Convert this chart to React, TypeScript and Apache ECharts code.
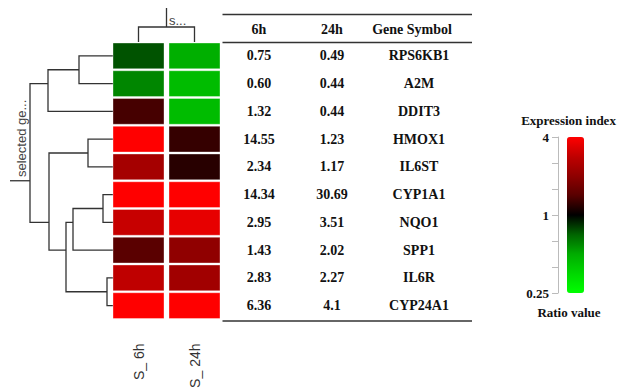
import React, { useEffect, useRef } from "react";
import * as echarts from "echarts";

// ---------- data ----------
const genes = ["RPS6KB1", "A2M", "DDIT3", "HMOX1", "IL6ST", "CYP1A1", "NQO1", "SPP1", "IL6R", "CYP24A1"];
const ratio6h = ["0.75", "0.60", "1.32", "14.55", "2.34", "14.34", "2.95", "1.43", "2.83", "6.36"];
const ratio24h = ["0.49", "0.44", "0.44", "1.23", "1.17", "30.69", "3.51", "2.02", "2.27", "4.1"];
const sampleLabels = ["S_ 6h", "S_ 24h"];
const tableHeaders = ["6h", "24h", "Gene Symbol"];
const legendRatioLabels = [0.25, 1, 4];

// row dendrogram merges (leaves = row indices), height = linkage distance
const rowMerges = [
  { id: "A", left: 0, right: 1, height: 34 },
  { id: "B", left: "A", right: 2, height: 65 },
  { id: "C", left: 3, right: 4, height: 25 },
  { id: "G", left: 5, right: 6, height: 10 },
  { id: "F", left: "G", right: 7, height: 40 },
  { id: "H", left: 8, right: 9, height: 6 },
  { id: "E", left: "F", right: "H", height: 47 },
  { id: "D", left: "C", right: "E", height: 64 },
  { id: "R", left: "B", right: "D", height: 83 },
];
const rowRootStem = 103;
// column dendrogram
const colMerges = [{ id: "S", left: 0, right: 1, height: 15 }];
const colRootStem = 34;

// ---------- helpers ----------
const FONT_SERIF = '"Times New Roman", "Liberation Serif", serif';
const FONT_SANS = 'Arial, "Liberation Sans", sans-serif';

type Merge = { id: string; left: number | string; right: number | string; height: number };

function buildDendro(merges: Merge[], stem: number) {
  const info: Record<string, { pos: number; h: number; leaves: number[] }> = {};
  const get = (k: number | string) =>
    typeof k === "number" ? { pos: k, h: 0, leaves: [k] } : info[k];
  const segs: number[][][] = [];
  let last: { pos: number; h: number } | null = null;
  for (const m of merges) {
    const l = get(m.left);
    const r = get(m.right);
    const leaves = [...l.leaves, ...r.leaves];
    const pos = leaves.reduce((a, b) => a + b, 0) / leaves.length;
    info[m.id] = { pos, h: m.height, leaves };
    segs.push([
      [l.h, l.pos],
      [m.height, l.pos],
      [m.height, r.pos],
      [r.h, r.pos],
    ]);
    last = info[m.id];
  }
  if (last) segs.push([[last.h, last.pos], [stem, last.pos]]);
  return segs;
}

const rowSegs = buildDendro(rowMerges, rowRootStem); // [dist, row]
const colSegs = buildDendro(colMerges, colRootStem).map((s) => s.map(([h, p]) => [p, h])); // [col, dist]

const log2c = (s: string) => Math.max(-2, Math.min(2, Math.log2(Number(s))));
const cellData: number[][] = [];
genes.forEach((_, i) => {
  cellData.push([0, i, log2c(ratio6h[i])]);
  cellData.push([1, i, log2c(ratio24h[i])]);
});

const tableColX = [37, 110, 197];

const lineStyle = { color: "#333", width: 1.3, opacity: 1 };

const option: any = {
  animation: false,
  backgroundColor: "#fff",
  grid: [
    { left: 10, top: 42, width: 103, height: 277.5, outerBoundsMode: "none" },
    { left: 110.5, top: 8, width: 112, height: 34, outerBoundsMode: "none" },
    { left: 110.5, top: 42, width: 112, height: 277.5, outerBoundsMode: "none" },
    { left: 222, top: 42, width: 250, height: 277.5, outerBoundsMode: "none" },
    { left: 558, top: 137, width: 26, height: 156, outerBoundsMode: "none" },
  ],
  xAxis: [
    { gridIndex: 0, type: "value", min: 0, max: rowRootStem, inverse: true, show: false },
    { gridIndex: 1, type: "value", min: -0.5, max: 1.5, show: false },
    {
      gridIndex: 2,
      type: "category",
      data: sampleLabels,
      position: "bottom",
      axisLine: { show: false },
      axisTick: { show: false },
      splitLine: { show: false },
      axisLabel: { rotate: 90, margin: 24, fontSize: 14, color: "#333", fontFamily: FONT_SANS },
    },
    { gridIndex: 3, type: "value", min: 0, max: 250, show: false },
    { gridIndex: 4, type: "value", min: 0, max: 1, show: false },
  ],
  yAxis: [
    { gridIndex: 0, type: "value", min: -0.5, max: genes.length - 0.5, inverse: true, show: false },
    { gridIndex: 1, type: "value", min: 0, max: colRootStem, show: false },
    { gridIndex: 2, type: "category", data: genes, inverse: true, show: false },
    { gridIndex: 3, type: "category", data: genes, inverse: true, show: false },
    {
      gridIndex: 4,
      type: "value",
      position: "left",
      min: -3,
      max: 3,
      interval: 1,
      splitLine: { show: false },
      axisLine: { show: true, onZero: false, lineStyle: { color: "#bbb", width: 1 } },
      axisTick: { show: true, inside: false, length: 6, lineStyle: { color: "#bbb", width: 1 } },
      axisLabel: {
        margin: 9,
        fontSize: 13,
        fontWeight: "bold",
        fontFamily: FONT_SERIF,
        color: "#111",
        formatter: (v: number) => {
          const r = Math.pow(2, (v * 2) / 3);
          const hit = legendRatioLabels.find((x) => Math.abs(x - r) < 1e-6);
          return hit !== undefined ? String(hit) : "";
        },
      },
    },
  ],
  visualMap: {
    type: "continuous",
    show: true,
    seriesIndex: 2,
    dimension: 2,
    min: -2,
    max: 2,
    calculable: false,
    hoverLink: false,
    text: ["", ""],
    padding: 0,
    left: 567,
    top: 137,
    itemWidth: 17,
    itemHeight: 156,
    inRange: {
      color: [
        "#00ff00",
        "#00d700",
        "#00ac00",
        "#006400",
        "#000000",
        "#580000",
        "#8f0000",
        "#bf0000",
        "#ff0000",
      ],
    },
  },
  series: [
    {
      type: "lines",
      coordinateSystem: "cartesian2d",
      xAxisIndex: 0,
      yAxisIndex: 0,
      polyline: true,
      silent: true,
      clip: false,
      lineStyle,
      data: rowSegs.map((c) => ({ coords: c })),
    },
    {
      type: "lines",
      coordinateSystem: "cartesian2d",
      xAxisIndex: 1,
      yAxisIndex: 1,
      polyline: true,
      silent: true,
      clip: false,
      lineStyle,
      data: colSegs.map((c) => ({ coords: c })),
    },
    {
      type: "custom",
      xAxisIndex: 2,
      yAxisIndex: 2,
      silent: true,
      encode: { x: 0, y: 1 },
      data: cellData,
      renderItem: (params: any, api: any) => {
        const p = api.coord([api.value(0), api.value(1)]);
        const s = api.size([1, 1]);
        return {
          type: "rect",
          shape: { x: p[0] - s[0] / 2 + 2.5, y: p[1] - s[1] / 2 + 1, width: s[0] - 5, height: s[1] - 2 },
          style: { fill: api.visual("color"), stroke: "rgba(255,255,255,0.35)", lineWidth: 1 },
        };
      },
    },
    {
      type: "custom",
      xAxisIndex: 3,
      yAxisIndex: 3,
      silent: true,
      data: genes.map((_, i) => [0, i]),
      renderItem: (params: any, api: any) => {
        const i = params.dataIndex;
        const texts = [ratio6h[i], ratio24h[i], genes[i]];
        return {
          type: "group",
          children: texts.map((t, k) => {
            const p = api.coord([tableColX[k], i]);
            return {
              type: "text",
              x: p[0],
              y: p[1],
              style: {
                text: t,
                fill: "#111",
                fontSize: 14,
                fontWeight: "bold",
                fontFamily: FONT_SERIF,
                textAlign: "center",
                textVerticalAlign: "middle",
              },
            };
          }),
        };
      },
    },
    // carrier series so the legend axis grid is laid out with its axes
    {
      type: "line",
      xAxisIndex: 4,
      yAxisIndex: 4,
      data: [],
      silent: true,
      showSymbol: false,
    },
  ],
  graphic: [
    { type: "line", shape: { x1: 222.5, y1: 14.5, x2: 472, y2: 14.5 }, style: { stroke: "#333", lineWidth: 1.5 } },
    { type: "line", shape: { x1: 222.5, y1: 42.5, x2: 472, y2: 42.5 }, style: { stroke: "#333", lineWidth: 1.5 } },
    { type: "line", shape: { x1: 222.5, y1: 321, x2: 472, y2: 321 }, style: { stroke: "#333", lineWidth: 1.5 } },
    ...tableHeaders.map((t, k) => ({
      type: "text",
      x: [259, 332, 412][k],
      y: 29.5,
      style: {
        text: t,
        fill: "#111",
        fontSize: 14,
        fontWeight: "bold",
        fontFamily: FONT_SERIF,
        textAlign: "center",
        textVerticalAlign: "middle",
      },
    })),
    {
      type: "text",
      x: 169,
      y: 20,
      style: { text: "s...", fill: "#444", fontSize: 13, fontFamily: FONT_SANS, textAlign: "left", textVerticalAlign: "middle" },
    },
    {
      type: "text",
      x: 21,
      y: 177,
      rotation: Math.PI / 2,
      style: {
        text: "selected ge...",
        fill: "#444",
        fontSize: 13,
        fontFamily: FONT_SANS,
        textAlign: "left",
        textVerticalAlign: "middle",
      },
    },
    {
      type: "text",
      x: 568.5,
      y: 120,
      style: {
        text: "Expression index",
        fill: "#111",
        fontSize: 13,
        fontWeight: "bold",
        fontFamily: FONT_SERIF,
        textAlign: "center",
        textVerticalAlign: "middle",
      },
    },
    {
      type: "text",
      x: 569,
      y: 312,
      style: {
        text: "Ratio value",
        fill: "#111",
        fontSize: 13,
        fontWeight: "bold",
        fontFamily: FONT_SERIF,
        textAlign: "center",
        textVerticalAlign: "middle",
      },
    },
  ],
};

export default function App() {
  const ref = useRef<HTMLDivElement>(null);
  useEffect(() => {
    if (!ref.current) return;
    const chart = echarts.init(ref.current, null, { renderer: "svg" });
    chart.setOption(option);
    return () => chart.dispose();
  }, []);
  return (
    <div
      ref={ref}
      style={{ position: "absolute", left: 0, top: 0, width: 619, height: 390, background: "#fff" }}
    />
  );
}
